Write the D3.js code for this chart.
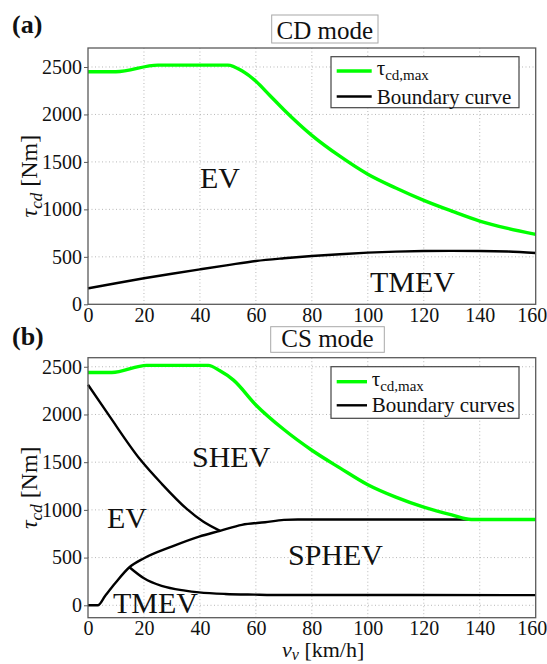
<!DOCTYPE html>
<html>
<head>
<meta charset="utf-8">
<script src="https://cdn.jsdelivr.net/npm/d3@7"></script>
<style>
  body { margin: 0; background: #fff; }
  svg, svg text, svg tspan { font-family: "Liberation Serif", "Times New Roman", serif !important; }
</style>
</head>
<body>
<svg id="chart" width="547" height="664"></svg>
<script>
// ---------- DATA ----------
const xTicks = [0, 20, 40, 60, 80, 100, 120, 140, 160];
const yTicks = [0, 500, 1000, 1500, 2000, 2500];

// Panel (a) CD mode
const cdMaxSpeed  = [0, 10, 25, 50, 55, 60, 65, 70, 80, 90, 100, 110, 120, 130, 140, 150, 160];
const cdMaxTorque = [2450, 2450, 2520, 2520, 2460, 2350, 2200, 2050, 1780, 1560, 1370, 1225, 1095, 982, 877, 800, 737];
const cdBoundSpeed  = [0, 10, 20, 30, 40, 50, 60, 70, 80, 90, 100, 110, 120, 130, 140, 150, 160];
const cdBoundTorque = [168, 222, 274, 322, 368, 413, 456, 485, 509, 528, 544, 555, 561, 563, 562, 556, 540];

// Panel (b) CS mode
const csMaxSpeed  = [0, 8.5, 21, 43, 47, 52, 60, 70, 80, 90, 100, 110, 120, 130, 137, 160];
const csMaxTorque = [2440, 2440, 2515, 2515, 2460, 2360, 2100, 1842, 1625, 1440, 1263, 1133, 1028, 947, 900, 900];
const csEvSpeed   = [0, 7.5, 18.6, 26.3, 35.3, 41, 47.2];
const csEvTorque  = [2311, 1990, 1530, 1275, 1010, 880, 780];
const csRiseSpeed  = [0, 3.5, 6.1, 9.7, 14.8, 20, 29.9, 39.7, 47.2, 55, 63.3, 70, 75, 160];
const csRiseTorque = [0, 0, 98, 231, 399, 493, 615, 720, 780, 843, 871, 895, 900, 900];
const csTmSpeed  = [14.8, 20, 26.3, 34.7, 39.7, 49, 59.7, 70, 160];
const csTmTorque = [399, 283, 203, 154, 136, 119, 112, 108, 107];

const panels = [
  {
    tag: "(a)", title: "CD mode", yDomain: [0, 2700],
    top: 48, bottom: 304.3,
    green: [cdMaxSpeed, cdMaxTorque],
    black: [[cdBoundSpeed, cdBoundTorque]],
    legendBlack: "Boundary curve",
    regions: [
      { text: "EV", x: 200, y: 188 },
      { text: "TMEV", x: 370, y: 292 }
    ],
    tagPos: [12, 33], titleBox: [271.7, 15, 106.3, 28], titleBase: 38.5,
    legend: { x: 331, y: 56.7, w: 188, h: 51, g: 71, k: 96.5, lx0: 336.7, lx1: 371.7, tx: 376.7 }
  },
  {
    tag: "(b)", title: "CS mode", yDomain: [-130, 2595],
    top: 357.7, bottom: 617.7,
    green: [csMaxSpeed, csMaxTorque],
    black: [[csEvSpeed, csEvTorque], [csRiseSpeed, csRiseTorque], [csTmSpeed, csTmTorque]],
    legendBlack: "Boundary curves",
    regions: [
      { text: "SHEV", x: 192, y: 467 },
      { text: "EV", x: 107, y: 528 },
      { text: "SPHEV", x: 288, y: 565 },
      { text: "TMEV", x: 113, y: 613 }
    ],
    tagPos: [12, 345], titleBox: [270.7, 326.7, 113.6, 25.6], titleBase: 347,
    legend: { x: 331, y: 366.7, w: 188, h: 51.6, g: 381.7, k: 405.3, lx0: 336.7, lx1: 367, tx: 371.7 }
  }
];

const FONT = '"Liberation Serif", "Times New Roman", serif';
const svg = d3.select("#chart");
svg.append("rect").attr("width", 547).attr("height", 664).attr("fill", "#fff");

const left = 88, right = 535.7;
const x = d3.scaleLinear().domain([0, 160]).range([left, right]);

panels.forEach(p => {
  const y = d3.scaleLinear().domain(p.yDomain).range([p.bottom, p.top]);
  const g = svg.append("g");

  // grid
  g.selectAll(".gx").data(xTicks.slice(1, -1)).enter().append("line")
    .attr("x1", d => x(d)).attr("x2", d => x(d))
    .attr("y1", p.top).attr("y2", p.bottom)
    .attr("stroke", "#b8b8b8").attr("stroke-width", 1).attr("stroke-dasharray", "1,2.5");
  g.selectAll(".gy").data(yTicks.filter(d => d > p.yDomain[0] && d < p.yDomain[1])).enter().append("line")
    .attr("x1", left).attr("x2", right)
    .attr("y1", d => y(d)).attr("y2", d => y(d))
    .attr("stroke", "#b8b8b8").attr("stroke-width", 1).attr("stroke-dasharray", "1,2.5");

  const line = d3.line().curve(d3.curveMonotoneX).x(d => x(d[0])).y(d => y(d[1]));
  const zip = (a, b) => a.map((v, i) => [v, b[i]]);

  // black boundary curves
  p.black.forEach(([sx, sy]) => {
    g.append("path").attr("d", line(zip(sx, sy)))
      .attr("fill", "none").attr("stroke", "#000").attr("stroke-width", 2.4)
      .attr("stroke-linejoin", "round");
  });
  // green max torque
  g.append("path").attr("d", line(zip(p.green[0], p.green[1])))
    .attr("fill", "none").attr("stroke", "#00ff00").attr("stroke-width", 3.4)
    .attr("stroke-linejoin", "round");

  // frame
  g.append("rect").attr("x", left).attr("y", p.top)
    .attr("width", right - left).attr("height", p.bottom - p.top)
    .attr("fill", "none").attr("stroke", "#5a5a5a").attr("stroke-width", 1.3);

  // axes via d3
  const yAxis = d3.axisLeft(y).tickValues(yTicks).tickSize(4).tickPadding(2).tickFormat(d3.format("d"));
  const ya = g.append("g").attr("transform", `translate(${left},0)`).call(yAxis);
  ya.attr("font-family", FONT);
  ya.select(".domain").remove();
  ya.selectAll("line").attr("stroke", "#5a5a5a");
  ya.selectAll("text").attr("font-size", 20).attr("fill", "#111");

  const xAxis = d3.axisBottom(x).tickValues(xTicks).tickSize(0).tickPadding(3).tickFormat(d3.format("d"));
  const xa = g.append("g").attr("transform", `translate(0,${p.bottom})`).call(xAxis);
  xa.attr("font-family", FONT);
  xa.select(".domain").remove();
  xa.selectAll("text").attr("font-size", 20).attr("fill", "#111")
    .attr("dx", d => d === 160 ? -4 : 0);

  // y axis title
  const yt = g.append("text")
    .attr("transform", `translate(37,${(p.top + p.bottom) / 2}) rotate(-90)`)
    .attr("text-anchor", "middle").attr("font-size", 24).attr("fill", "#111");
  yt.append("tspan").attr("font-style", "italic").text("τ");
  yt.append("tspan").attr("font-style", "italic").attr("font-size", 17).attr("dy", 5).text("cd");
  yt.append("tspan").attr("dy", -5).text(" [Nm]");

  // region labels
  p.regions.forEach(r => {
    g.append("text").attr("x", r.x).attr("y", r.y)
      .attr("font-size", 30).attr("fill", "#111").text(r.text);
  });

  // tag
  g.append("text").attr("x", p.tagPos[0]).attr("y", p.tagPos[1])
    .attr("font-size", 26).attr("font-weight", "bold").attr("fill", "#111").text(p.tag);

  // title box
  const tb = p.titleBox;
  g.append("rect").attr("x", tb[0]).attr("y", tb[1]).attr("width", tb[2]).attr("height", tb[3])
    .attr("fill", "#fff").attr("stroke", "#a8a8a8").attr("stroke-width", 1);
  g.append("text").attr("x", tb[0] + tb[2] / 2).attr("y", p.titleBase)
    .attr("text-anchor", "middle").attr("font-size", 25).attr("fill", "#111").text(p.title);

  // legend
  const L = p.legend;
  g.append("rect").attr("x", L.x).attr("y", L.y).attr("width", L.w).attr("height", L.h)
    .attr("fill", "#fff").attr("stroke", "#444").attr("stroke-width", 1.2);
  g.append("line").attr("x1", L.lx0).attr("x2", L.lx1).attr("y1", L.g).attr("y2", L.g)
    .attr("stroke", "#00ff00").attr("stroke-width", 3.4);
  g.append("line").attr("x1", L.lx0).attr("x2", L.lx1).attr("y1", L.k).attr("y2", L.k)
    .attr("stroke", "#000").attr("stroke-width", 2.4);
  const lt = g.append("text").attr("x", L.tx).attr("y", L.g + 4).attr("font-size", 21).attr("fill", "#111");
  lt.append("tspan").text("τ");
  lt.append("tspan").attr("font-size", 15).attr("dy", 5).text("cd,max");
  g.append("text").attr("x", L.tx).attr("y", L.k + 7).attr("font-size", 21).attr("fill", "#111").text(p.legendBlack);
});

// x axis title
const xt = svg.append("text").attr("x", 282).attr("y", 657).attr("font-size", 22).attr("fill", "#111");
xt.append("tspan").attr("font-style", "italic").text("v");
xt.append("tspan").attr("font-style", "italic").attr("font-size", 16).attr("dy", 3).text("v");
xt.append("tspan").attr("dy", -3).text(" [km/h]");
</script>
</body>
</html>
